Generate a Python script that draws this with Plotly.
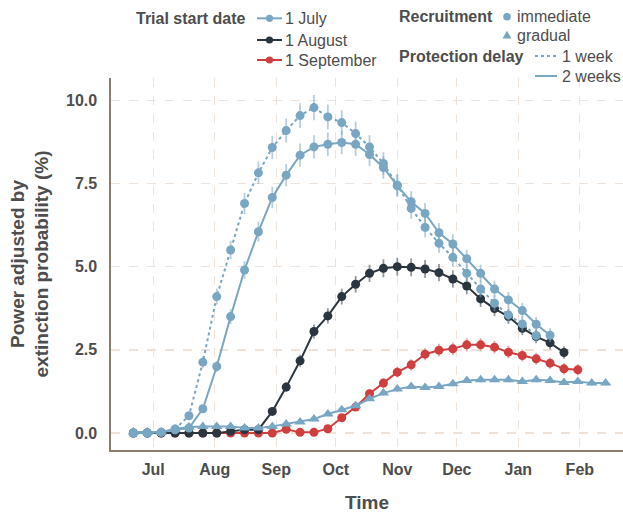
import plotly.graph_objects as go

# ---------------- data ----------------
dates = ["2020-06-21", "2020-06-28", "2020-07-05", "2020-07-12", "2020-07-19", "2020-07-26",
         "2020-08-02", "2020-08-09", "2020-08-16", "2020-08-23", "2020-08-30",
         "2020-09-06", "2020-09-13", "2020-09-20", "2020-09-27",
         "2020-10-04", "2020-10-11", "2020-10-18", "2020-10-25",
         "2020-11-01", "2020-11-08", "2020-11-15", "2020-11-22", "2020-11-29",
         "2020-12-06", "2020-12-13", "2020-12-20", "2020-12-27",
         "2021-01-03", "2021-01-10", "2021-01-17", "2021-01-24", "2021-01-31",
         "2021-02-07", "2021-02-14"]

# 1 July, immediate recruitment, 1 week protection delay (dotted)
july_1wk = [0.0, 0.0, 0.02, 0.12, 0.52, 2.13, 4.1, 5.5, 6.9, 7.82, 8.58, 9.09, 9.54, 9.78,
            9.5, 9.33, 9.0, 8.6, 8.1, 7.45, 6.75, 6.18, 5.7, 5.28, 4.8, 4.33, 3.9, 3.55,
            3.28, 2.93]
july_1wk_err = [0.0, 0.0, 0.02, 0.04, 0.09, 0.18, 0.24, 0.28, 0.32, 0.34, 0.35, 0.36, 0.37,
                0.38, 0.37, 0.37, 0.36, 0.35, 0.34, 0.33, 0.31, 0.30, 0.29, 0.28, 0.26,
                0.25, 0.24, 0.23, 0.22, 0.21]

# 1 July, immediate recruitment, 2 weeks protection delay (solid)
july_2wk = [0.0, 0.0, 0.02, 0.1, 0.15, 0.73, 2.0, 3.5, 4.9, 6.05, 7.08, 7.75, 8.35, 8.6,
            8.68, 8.73, 8.68, 8.37, 7.98, 7.43, 6.95, 6.6, 6.02, 5.68, 5.24, 4.8, 4.33,
            4.0, 3.68, 3.27, 2.94]
july_2wk_err = [0.0, 0.0, 0.02, 0.04, 0.05, 0.10, 0.17, 0.22, 0.27, 0.30, 0.32, 0.33, 0.35,
                0.35, 0.35, 0.35, 0.35, 0.35, 0.34, 0.33, 0.32, 0.31, 0.29, 0.29, 0.27,
                0.26, 0.25, 0.24, 0.23, 0.22, 0.21]

# 1 August, immediate recruitment, 2 weeks protection delay
aug_2wk = [0.0, 0.0, 0.0, 0.0, 0.0, 0.0, 0.0, 0.05, 0.1, 0.1, 0.65, 1.38, 2.17, 3.05,
           3.52, 4.1, 4.47, 4.8, 4.95, 5.0, 4.98, 4.93, 4.82, 4.63, 4.42, 4.03, 3.74,
           3.5, 3.15, 2.9, 2.71, 2.42]
aug_2wk_err = [0.0, 0.0, 0.0, 0.0, 0.0, 0.0, 0.0, 0.03, 0.04, 0.04, 0.10, 0.14, 0.18, 0.21,
               0.23, 0.24, 0.25, 0.26, 0.27, 0.27, 0.27, 0.27, 0.26, 0.26, 0.25, 0.24,
               0.23, 0.22, 0.21, 0.20, 0.20, 0.19]

# 1 September, immediate recruitment, 2 weeks protection delay
sep_2wk = [0.0, 0.0, 0.0, 0.0, 0.0, 0.0, 0.0, 0.0, 0.0, 0.0, 0.0, 0.11, 0.02, 0.02, 0.13,
           0.46, 0.78, 1.18, 1.5, 1.83, 2.05, 2.37, 2.49, 2.53, 2.65, 2.65, 2.58, 2.43,
           2.33, 2.23, 2.1, 1.93, 1.9]
sep_2wk_err = [0.0, 0.0, 0.0, 0.0, 0.0, 0.0, 0.0, 0.0, 0.0, 0.0, 0.0, 0.04, 0.02, 0.02, 0.04,
               0.08, 0.10, 0.13, 0.15, 0.16, 0.17, 0.18, 0.19, 0.19, 0.20, 0.20, 0.19,
               0.19, 0.18, 0.18, 0.17, 0.17, 0.17]

# 1 July, gradual recruitment, 2 weeks protection delay
july_gradual = [0.03, 0.03, 0.03, 0.12, 0.18, 0.2, 0.2, 0.2, 0.15, 0.15, 0.2, 0.27, 0.33,
                0.42, 0.57, 0.7, 0.82, 1.03, 1.2, 1.32, 1.4, 1.37, 1.4, 1.48, 1.58, 1.6,
                1.6, 1.6, 1.55, 1.6, 1.58, 1.52, 1.55, 1.5, 1.5]
july_gradual_err = [0.01, 0.01, 0.01, 0.03, 0.03, 0.04, 0.04, 0.04, 0.03, 0.03, 0.04, 0.04,
                    0.05, 0.05, 0.06, 0.06, 0.07, 0.07, 0.08, 0.08, 0.08, 0.08, 0.08, 0.08,
                    0.08, 0.08, 0.08, 0.08, 0.08, 0.08, 0.08, 0.08, 0.08, 0.08, 0.08]

y_ticks = [0, 2.5, 5, 7.5, 10]
start_title = "Trial start date"
start_labels = ["1 July", "1 August", "1 September"]
recruit_title = "Recruitment"
recruit_labels = ["immediate", "gradual"]
delay_title = "Protection delay"
delay_labels = ["1 week", "2 weeks"]

# ---------------- style ----------------
BLUE = "#79a6c2"
DARK = "#2b353f"
RED = "#cf3f3f"
BLUE_ERR = "rgba(121,166,194,0.55)"
DARK_ERR = "rgba(110,118,126,0.75)"
RED_ERR = "rgba(207,63,63,0.45)"
FONT = "Liberation Sans, Arial, sans-serif"
TXT = "#4d4d4d"
GRID = "#efe2d8"
AXIS = "#8c7c6a"

W, H = 623, 513
ML, MR, MT, MB = 111, 0, 78, 63
PW, PH = W - ML - MR, H - MT - MB

fig = go.Figure()


def add_series(y, err, color, errcolor, dash, symbol, size):
    n = len(y)
    fig.add_trace(go.Scatter(
        x=dates[:n], y=y, mode="lines+markers",
        line=dict(color=color, width=2, dash=dash),
        marker=dict(color=color, size=size, symbol=symbol, line=dict(width=0)),
        error_y=dict(type="data", array=err, color=errcolor, thickness=1.8, width=0),
        showlegend=False, hoverinfo="skip"))


add_series(sep_2wk, sep_2wk_err, RED, RED_ERR, "solid", "circle", 9)
add_series(aug_2wk, aug_2wk_err, DARK, DARK_ERR, "solid", "circle", 9)
add_series(july_gradual, july_gradual_err, BLUE, BLUE_ERR, "solid", "triangle-up", 10)
add_series(july_2wk, july_2wk_err, BLUE, BLUE_ERR, "solid", "circle", 9)
add_series(july_1wk, july_1wk_err, BLUE, BLUE_ERR, "dot", "circle", 9)


# ---------------- legend (drawn in the top margin) ----------------
def px(x):
    return (x - ML) / PW


def py(y):
    return (H - MB - y) / PH


annotations = []
shapes = []


def text(x, y, s, anchor="left", bold=False, size=16):
    annotations.append(dict(
        x=px(x), y=py(y), xref="paper", yref="paper", text=s, showarrow=False,
        xanchor=anchor, yanchor="middle",
        font=dict(family=FONT, size=size, color=TXT, weight="bold" if bold else "normal")))


def key_line(x0, x1, y, color, dash="solid"):
    shapes.append(dict(type="line", xref="paper", yref="paper", x0=px(x0), x1=px(x1),
                       y0=py(y), y1=py(y), line=dict(color=color, width=2, dash=dash)))


def key_dot(x, y, color, r=3.6):
    shapes.append(dict(type="circle", xref="paper", yref="paper",
                       xsizemode="pixel", ysizemode="pixel", xanchor=px(x), yanchor=py(y),
                       x0=-r, x1=r, y0=-r, y1=r, fillcolor=color, line=dict(width=0)))


def key_tri(x, y, color):
    shapes.append(dict(type="path", xref="paper", yref="paper",
                       xsizemode="pixel", ysizemode="pixel", xanchor=px(x), yanchor=py(y),
                       path="M -4.5,-3.5 L 4.5,-3.5 L 0,4.3 Z",
                       fillcolor=color, line=dict(width=0)))


rows1 = [18.3, 40, 60]
text(247, rows1[0], start_title, anchor="right", bold=True)
for lab, col, yy in zip(start_labels, [BLUE, DARK, RED], rows1):
    key_line(257, 282, yy, col)
    key_dot(269.5, yy, col)
    text(283, yy, lab)

text(397, 16.7, recruit_title, bold=True)
key_dot(507, 16.7, BLUE, r=3.8)
text(515, 16.7, recruit_labels[0])
key_tri(507, 35, BLUE)
text(515, 35, recruit_labels[1])

text(397, 56, delay_title, bold=True)
key_line(535, 556, 56, BLUE, dash="dot")
text(560, 56, delay_labels[0])
key_line(535, 557, 76, BLUE)
text(560, 76, delay_labels[1])

fig.update_layout(
    width=W, height=H,
    margin=dict(l=ML, r=MR, t=MT, b=MB, autoexpand=False),
    paper_bgcolor="white", plot_bgcolor="white",
    font=dict(family=FONT, color=TXT),
    showlegend=False,
    annotations=annotations, shapes=shapes,
)

fig.update_xaxes(
    type="date", range=["2020-06-09 17:00", "2021-02-22 18:00"],
    dtick="M1", tick0="2020-07-01", tickformat="%b",
    showgrid=True, gridcolor=GRID, griddash="dash", gridwidth=1.3,
    showline=True, linecolor=AXIS, linewidth=1.6, zeroline=False,
    ticks="outside", ticklen=4, tickcolor="rgba(0,0,0,0)",
    tickfont=dict(family=FONT, size=16, color=TXT, weight="bold"),
    title=dict(text="Time", font=dict(family=FONT, size=19, color=TXT, weight="bold"),
               standoff=20),
)
fig.update_yaxes(
    range=[-0.51, 10.67], tickvals=y_ticks, tickformat=".1f",
    showgrid=True, gridcolor=GRID, griddash="dash", gridwidth=1.3,
    showline=True, linecolor=AXIS, linewidth=1.6, zeroline=False,
    ticks="outside", ticklen=9, tickcolor="rgba(0,0,0,0)",
    tickfont=dict(family=FONT, size=16, color=TXT, weight="bold"),
    title=dict(text="Power adjusted by<br>extinction probability (%)",
               font=dict(family=FONT, size=19, color=TXT, weight="bold"), standoff=12),
)

fig.write_html("out.html",
               config={"displayModeBar": False, "staticPlot": True},
               post_script="document.body.style.margin='0';document.body.style.overflow='hidden';")
